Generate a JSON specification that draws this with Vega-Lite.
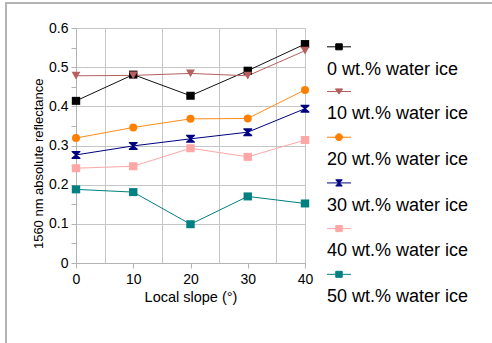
{
  "$schema": "https://vega.github.io/schema/vega-lite/v6.json",
  "width": 229,
  "height": 235,
  "autosize": {"type": "none"},
  "padding": {"left": 76, "top": 28, "right": 187, "bottom": 80},
  "background": "white",
  "config": {"view": {"stroke": null}, "font": "Liberation Sans", "legend": {"strokeWidth": 2}},
  "data": {"values": [
    {"slope": 0, "value": 0.414, "series": "0 wt.% water ice"},
    {"slope": 10, "value": 0.481, "series": "0 wt.% water ice"},
    {"slope": 20, "value": 0.427, "series": "0 wt.% water ice"},
    {"slope": 30, "value": 0.491, "series": "0 wt.% water ice"},
    {"slope": 40, "value": 0.559, "series": "0 wt.% water ice"},
    {"slope": 0, "value": 0.478, "series": "10 wt.% water ice"},
    {"slope": 10, "value": 0.479, "series": "10 wt.% water ice"},
    {"slope": 20, "value": 0.484, "series": "10 wt.% water ice"},
    {"slope": 30, "value": 0.478, "series": "10 wt.% water ice"},
    {"slope": 40, "value": 0.542, "series": "10 wt.% water ice"},
    {"slope": 0, "value": 0.319, "series": "20 wt.% water ice"},
    {"slope": 10, "value": 0.346, "series": "20 wt.% water ice"},
    {"slope": 20, "value": 0.368, "series": "20 wt.% water ice"},
    {"slope": 30, "value": 0.369, "series": "20 wt.% water ice"},
    {"slope": 40, "value": 0.442, "series": "20 wt.% water ice"},
    {"slope": 0, "value": 0.276, "series": "30 wt.% water ice"},
    {"slope": 10, "value": 0.299, "series": "30 wt.% water ice"},
    {"slope": 20, "value": 0.317, "series": "30 wt.% water ice"},
    {"slope": 30, "value": 0.334, "series": "30 wt.% water ice"},
    {"slope": 40, "value": 0.394, "series": "30 wt.% water ice"},
    {"slope": 0, "value": 0.242, "series": "40 wt.% water ice"},
    {"slope": 10, "value": 0.247, "series": "40 wt.% water ice"},
    {"slope": 20, "value": 0.293, "series": "40 wt.% water ice"},
    {"slope": 30, "value": 0.271, "series": "40 wt.% water ice"},
    {"slope": 40, "value": 0.314, "series": "40 wt.% water ice"},
    {"slope": 0, "value": 0.188, "series": "50 wt.% water ice"},
    {"slope": 10, "value": 0.181, "series": "50 wt.% water ice"},
    {"slope": 20, "value": 0.099, "series": "50 wt.% water ice"},
    {"slope": 30, "value": 0.170, "series": "50 wt.% water ice"},
    {"slope": 40, "value": 0.152, "series": "50 wt.% water ice"}
  ]},
  "layer": [
    {
      "mark": {"type": "line", "strokeWidth": 1},
      "encoding": {
        "x": {
          "field": "slope", "type": "quantitative",
          "scale": {"domain": [0, 40], "nice": false},
          "axis": {
            "values": [0, 5, 10, 15, 20, 25, 30, 35, 40],
            "tickCount": 100,
            "title": "Local slope (°)",
            "titleFont": "Liberation Sans", "titleFontSize": 14.5, "titleFontWeight": "normal", "titleColor": "black",
            "titleY": 38, "titleBaseline": "alphabetic",
            "labelFont": "Liberation Sans", "labelFontSize": 14, "labelColor": "black", "labelPadding": 4,
            "labelExpr": "datum.value % 10 == 0 ? format(datum.value, 'd') : ''",
            "labelFlush": false, "labelOverlap": false,
            "domainColor": "#b3b3b3", "tickColor": "#b3b3b3", "tickSize": 5,
            "tickOpacity": {"condition": {"test": "datum.value % 10 == 0", "value": 1}, "value": 0},
            "grid": true, "gridColor": "#c6c6c6",
            "gridOpacity": {"condition": {"test": "datum.value % 10 == 5 || datum.value == 40", "value": 1}, "value": 0}
          }
        },
        "y": {
          "field": "value", "type": "quantitative",
          "scale": {"domain": [0, 0.6], "nice": false},
          "axis": {
            "values": [0, 0.05, 0.1, 0.15, 0.2, 0.25, 0.3, 0.35, 0.4, 0.45, 0.5, 0.55, 0.6],
            "tickCount": 100,
            "title": "1560 nm absolute reflectance",
            "titleFont": "Liberation Sans", "titleFontSize": 13, "titleFontWeight": "normal", "titleColor": "black",
            "titleX": -34, "titleY": 135.3, "titleBaseline": "alphabetic", "titleAngle": -90, "titleAlign": "center",
            "labelFont": "Liberation Sans", "labelFontSize": 14, "labelColor": "black", "labelPadding": 3,
            "labelExpr": "round(datum.value * 100) % 10 == 0 ? format(datum.value, '~g') : ''",
            "labelFlush": false, "labelOverlap": false,
            "domainColor": "#b3b3b3", "tickColor": "#b3b3b3", "tickSize": 5,
            "grid": true, "gridColor": "#c6c6c6",
            "gridOpacity": {"condition": {"test": "round(datum.value * 100) % 10 == 0", "value": 1}, "value": 0}
          }
        },
        "color": {
          "field": "series", "type": "nominal",
          "scale": {
            "domain": ["0 wt.% water ice", "10 wt.% water ice", "20 wt.% water ice", "30 wt.% water ice", "40 wt.% water ice", "50 wt.% water ice"],
            "range": ["#111111", "#b5605f", "#ff8c1a", "#000080", "#ffa6a6", "#008080"]
          },
          "legend": null
        }
      }
    },
    {
      "mark": {"type": "point", "filled": true, "opacity": 1, "size": 64},
      "encoding": {
        "x": {"field": "slope", "type": "quantitative"},
        "y": {"field": "value", "type": "quantitative"},
        "color": {
          "field": "series", "type": "nominal",
          "scale": {
            "domain": ["0 wt.% water ice", "10 wt.% water ice", "20 wt.% water ice", "30 wt.% water ice", "40 wt.% water ice", "50 wt.% water ice"],
            "range": ["#000000", "#b5605f", "#ff8000", "#000080", "#ffa6a6", "#008080"]
          },
          "legend": null
        },
        "shape": {
          "field": "series", "type": "nominal",
          "scale": {
            "domain": ["0 wt.% water ice", "10 wt.% water ice", "20 wt.% water ice", "30 wt.% water ice", "40 wt.% water ice", "50 wt.% water ice"],
            "range": [
              "M-1.05,-1H1.05V1H-1.05Z",
              "M-1.1,-1H1.1L0,0.95Z",
              "circle",
              "M-1.1,-1H1.1V-0.7L0.25,0L1.1,0.7V1H-1.1V0.7L-0.25,0L-1.1,-0.7Z",
              "M-1.05,-1H1.05V1H-1.05Z",
              "M-1.05,-1H1.05V1H-1.05Z"
            ]
          },
          "legend": null
        }
      }
    },
    {
      "transform": [{"filter": "false"}],
      "mark": {"type": "point", "filled": true, "opacity": 1, "size": 576, "strokeWidth": 1},
      "encoding": {
        "fill": {
          "field": "series", "type": "nominal",
          "scale": {
            "domain": ["0 wt.% water ice", "10 wt.% water ice", "20 wt.% water ice", "30 wt.% water ice", "40 wt.% water ice", "50 wt.% water ice"],
            "range": ["#000000", "#b5605f", "#ff8000", "#000080", "#ffa6a6", "#008080"]
          },
          "legend": {"title": null}
        },
        "stroke": {
          "field": "series", "type": "nominal",
          "scale": {
            "domain": ["0 wt.% water ice", "10 wt.% water ice", "20 wt.% water ice", "30 wt.% water ice", "40 wt.% water ice", "50 wt.% water ice"],
            "range": ["#000000", "#b5605f", "#ff8000", "#000080", "#ffa6a6", "#008080"]
          },
          "legend": {"title": null}
        },
        "shape": {
          "field": "series", "type": "nominal",
          "scale": {
            "domain": ["0 wt.% water ice", "10 wt.% water ice", "20 wt.% water ice", "30 wt.% water ice", "40 wt.% water ice", "50 wt.% water ice"],
            "range": [
              "M-1,-1.14H1M-0.27,-1.39H0.27V-0.89H-0.27Z",
              "M-1,-1.14H1M-0.3,-1.36H0.3L0,-0.93Z",
              "M-1,-1.14H1M-0.29,-1.14A0.29,0.29,0,1,0,0.29,-1.14A0.29,0.29,0,1,0,-0.29,-1.14Z",
              "M-1,-1.14H1M-0.27,-1.4H0.27L0.05,-1.14L0.27,-0.88H-0.27L-0.05,-1.14Z",
              "M-1,-1.14H1M-0.27,-1.39H0.27V-0.89H-0.27Z",
              "M-1,-1.14H1M-0.27,-1.39H0.27V-0.89H-0.27Z"
            ]
          },
          "legend": {
            "title": null,
            "orient": "none",
            "legendX": -70,
            "legendY": -25,
            "padding": 45,
            "strokeColor": "#b4b4b4",
            "symbolSize": 576,
            "symbolStrokeWidth": 1,
            "symbolOffset": 275.5,
            "labelOffset": -24.5,
            "labelBaseline": "top",
            "labelFont": "Liberation Sans",
            "labelFontSize": 18,
            "labelColor": "black",
            "labelLimit": 400,
            "rowPadding": 7.7
          }
        }
      }
    }
  ],
  "resolve": {
    "scale": {"shape": "independent", "color": "independent", "fill": "independent", "stroke": "independent"},
    "legend": {"shape": "independent", "fill": "independent", "stroke": "independent"}
  }
}
